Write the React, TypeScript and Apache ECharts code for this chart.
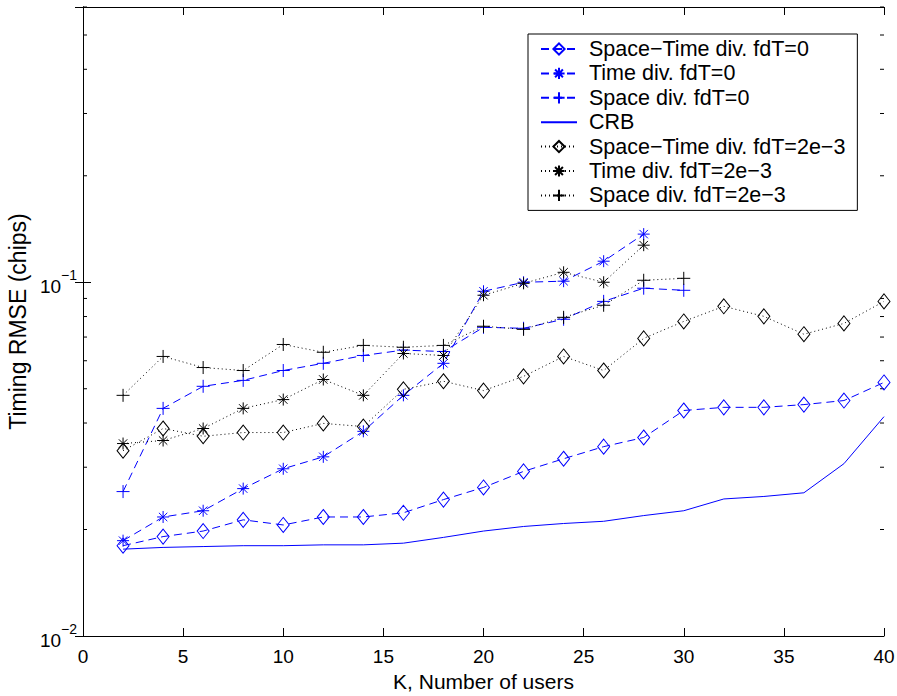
import React, { useEffect, useRef } from "react";
import * as echarts from "echarts";

const K = [2, 4, 6, 8, 10, 12, 14, 16, 18, 20, 22, 24, 26, 28, 30, 32, 34, 36, 38, 40];
const K28 = [2, 4, 6, 8, 10, 12, 14, 16, 18, 20, 22, 24, 26, 28];
const K30 = [2, 4, 6, 8, 10, 12, 14, 16, 18, 20, 22, 24, 26, 28, 30];

const spaceTime0 = [0.018, 0.0191, 0.0198, 0.0213, 0.0206, 0.0217, 0.0217, 0.0223, 0.0243, 0.0263, 0.0292, 0.0317, 0.0343, 0.0364, 0.0434, 0.0443, 0.0443, 0.0451, 0.0463, 0.0521];
const time0 = [0.0186, 0.0217, 0.0226, 0.0261, 0.0297, 0.0321, 0.0379, 0.0479, 0.059, 0.0943, 0.1, 0.1007, 0.1147, 0.1368];
const space0 = [0.0256, 0.044, 0.0508, 0.0528, 0.0563, 0.059, 0.0621, 0.0643, 0.0637, 0.0746, 0.0741, 0.0786, 0.0883, 0.0962, 0.0949];
const crb = [0.0176, 0.0178, 0.0179, 0.018, 0.018, 0.0181, 0.0181, 0.0183, 0.019, 0.0198, 0.0204, 0.0208, 0.0211, 0.0219, 0.0226, 0.0244, 0.0248, 0.0254, 0.0307, 0.0417];
const spaceTime2 = [0.0334, 0.0386, 0.0367, 0.0376, 0.0376, 0.0399, 0.0391, 0.0498, 0.0525, 0.0494, 0.0542, 0.0617, 0.0563, 0.0694, 0.0775, 0.0855, 0.0801, 0.0713, 0.0765, 0.0883];
const time2 = [0.035, 0.0357, 0.0386, 0.044, 0.0466, 0.0531, 0.0479, 0.0629, 0.0621, 0.0919, 0.0993, 0.1067, 0.1, 0.1273];
const space2 = [0.0479, 0.0617, 0.0574, 0.0563, 0.0667, 0.0634, 0.0663, 0.0655, 0.0663, 0.0751, 0.0736, 0.0796, 0.0861, 0.1013, 0.1026];

const names = [
  "Space\u2212Time div. fdT=0",
  "Time div. fdT=0",
  "Space div. fdT=0",
  "CRB",
  "Space\u2212Time div. fdT=2e\u22123",
  "Time div. fdT=2e\u22123",
  "Space div. fdT=2e\u22123",
];

const minorTicks = [0.02, 0.03, 0.04, 0.05, 0.06, 0.07, 0.08, 0.09, 0.2, 0.3, 0.4, 0.5, 0.6];
const yMin = 0.01;
const yMax = 0.6;

const BLUE = "#0000ff";
const BLACK = "#000000";
const FONT = "'Liberation Sans', Arial, Helvetica, sans-serif";

const ASTERISK = "path://M6 0 L6 12 M0 6 L12 6 M1.8 1.8 L10.2 10.2 M10.2 1.8 L1.8 10.2";
const PLUS = "path://M6 0 L6 12 M0 6 L12 6";

function zip(xs: number[], ys: number[]) {
  return xs.map((x, i) => [x, ys[i]]);
}

function lineSeries(name: string, xs: number[], ys: number[], color: string, dash: any, symbol: string, size: any) {
  const hollow = symbol === "diamond" || symbol === "none";
  return {
    name,
    type: "line",
    data: zip(xs, ys),
    symbol,
    symbolSize: size,
    showSymbol: symbol !== "none",
    lineStyle: { color, width: 1, type: dash },
    itemStyle: {
      color: hollow ? "rgba(255,255,255,0)" : color,
      borderColor: symbol === "none" ? "rgba(255,255,255,0)" : color,
      borderWidth: symbol === "none" ? 0 : 1,
    },
    emphasis: { disabled: true },
    z: 3,
  };
}

export default function App() {
  const ref = useRef<HTMLDivElement>(null);
  useEffect(() => {
    if (!ref.current) return;
    const chart = echarts.init(ref.current, undefined, { renderer: "svg" });
    const tickLabelRich = {
      a: { fontSize: 19, fontFamily: FONT, color: BLACK, verticalAlign: "bottom" },
      b: { fontSize: 14, fontFamily: FONT, color: BLACK, verticalAlign: "bottom", padding: [0, 0, 14, 0] },
    };
    const yLabelFmt = (v: number) => {
      const e = Math.round(Math.log10(v));
      if (Math.abs(Math.log10(v) - e) > 1e-6) return "";
      return "{a|10}{b|" + (e < 0 ? "\u2212" + -e : String(e)) + "}";
    };
    const option: any = {
      animation: false,
      backgroundColor: "#fff",
      grid: { left: 83, right: 13, top: 7, bottom: 60, containLabel: false, outerBoundsMode: "none" },
      xAxis: [
        {
          type: "value",
          min: 0,
          max: 40,
          interval: 5,
          position: "bottom",
          name: "K, Number of users",
          nameLocation: "middle",
          nameGap: 32,
          nameTextStyle: { fontSize: 21, fontFamily: FONT, color: BLACK },
          axisLine: { show: true, lineStyle: { color: BLACK, width: 1 } },
          axisTick: { show: true, inside: true, length: 8, lineStyle: { color: BLACK } },
          axisLabel: { fontSize: 19, fontFamily: FONT, color: BLACK, margin: 11 },
          splitLine: { show: false },
        },
        {
          type: "value",
          min: 0,
          max: 40,
          interval: 5,
          position: "top",
          axisLine: { show: true, lineStyle: { color: BLACK, width: 1 } },
          axisTick: { show: true, inside: true, length: 8, lineStyle: { color: BLACK } },
          axisLabel: { show: false },
          splitLine: { show: false },
        },
      ],
      yAxis: [
        {
          type: "log",
          logBase: 10,
          min: yMin,
          max: yMax,
          position: "left",
          name: "Timing RMSE (chips)",
          nameLocation: "middle",
          nameGap: 47,
          nameRotate: 90,
          nameTextStyle: { fontSize: 23, fontFamily: FONT, color: BLACK },
          axisLine: { show: true, lineStyle: { color: BLACK, width: 1 } },
          axisTick: { show: true, inside: true, length: 8, lineStyle: { color: BLACK } },
          axisLabel: { formatter: yLabelFmt, rich: tickLabelRich, margin: 6, showMaxLabel: false },
          splitLine: { show: false },
        },
        {
          type: "log",
          logBase: 10,
          min: yMin,
          max: yMax,
          position: "right",
          axisLine: { show: true, lineStyle: { color: BLACK, width: 1 } },
          axisTick: { show: true, inside: true, length: 8, lineStyle: { color: BLACK } },
          axisLabel: { show: false },
          splitLine: { show: false },
        },
      ],
      legend: {
        data: names,
        orient: "vertical",
        left: 528,
        top: 34,
        backgroundColor: "#fff",
        borderColor: BLACK,
        borderWidth: 1,
        padding: [4, 12, 4, 12],
        itemWidth: 36,
        itemHeight: 14,
        itemGap: 2.4,
        selectedMode: false,
        textStyle: { fontSize: 21.5, fontFamily: FONT, color: BLACK, padding: [0, 0, 0, 7] },
        z: 10,
      },
      series: [
        lineSeries(names[0], K, spaceTime0, BLUE, [8, 5], "diamond", [12, 15]),
        lineSeries(names[1], K28, time0, BLUE, [8, 5], ASTERISK, 12),
        lineSeries(names[2], K30, space0, BLUE, [8, 5], PLUS, 13),
        lineSeries(names[3], K, crb, BLUE, "solid", "none", 0),
        lineSeries(names[4], K, spaceTime2, BLACK, [1, 3], "diamond", [12, 15]),
        lineSeries(names[5], K28, time2, BLACK, [1, 3], ASTERISK, 12),
        lineSeries(names[6], K30, space2, BLACK, [1, 3], PLUS, 13),
        {
          type: "custom",
          name: "minorTicks",
          data: minorTicks.map((v) => [0, v]),
          encode: { x: 0, y: 1 },
          silent: true,
          renderItem: (params: any, api: any) => {
            const v = api.value(1);
            const l = api.coord([0, v]);
            const r = api.coord([40, v]);
            return {
              type: "group",
              children: [
                { type: "line", shape: { x1: l[0], y1: l[1], x2: l[0] + 4, y2: l[1] }, style: { stroke: BLACK, lineWidth: 1 } },
                { type: "line", shape: { x1: r[0], y1: r[1], x2: r[0] - 4, y2: r[1] }, style: { stroke: BLACK, lineWidth: 1 } },
              ],
            };
          },
          z: 2,
        },
      ],
    };
    chart.setOption(option);
    return () => chart.dispose();
  }, []);
  return <div ref={ref} style={{ position: "absolute", left: 0, top: 0, width: 897, height: 696 }} />;
}
